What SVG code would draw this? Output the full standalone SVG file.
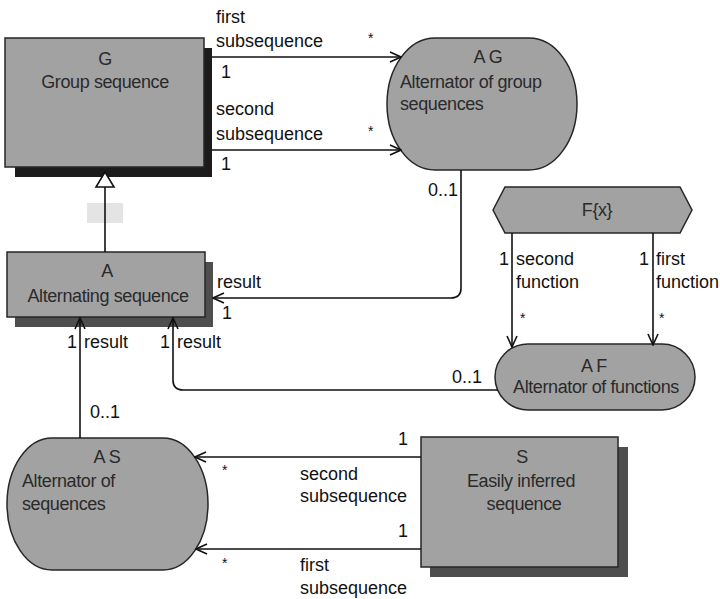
<svg xmlns="http://www.w3.org/2000/svg" width="720" height="599" viewBox="0 0 720 599">
  <style>
    .node { fill: #a2a2a2; stroke: #262626; stroke-width: 1.5; }
    .shadow-dark { fill: #1c1c1c; }
    .shadow { fill: #4e4e4e; }
    .ntext { font-family: "Liberation Sans", Arial, sans-serif; font-size: 18px; fill: #2a2a2a; letter-spacing: -0.4px; }
    .mid { text-anchor: middle; }
    .elabel { font-family: "Liberation Sans", Arial, sans-serif; font-size: 18px; fill: #111; }
    .star { font-family: "Liberation Sans", Arial, sans-serif; font-size: 14px; fill: #111; }
    .conn { fill: none; stroke: #111; stroke-width: 1.6; }
  </style>
  <defs>
    <marker id="open-arrow" viewBox="0 0 13 12" refX="12" refY="6" markerWidth="13" markerHeight="12" markerUnits="userSpaceOnUse" orient="auto">
      <path d="M1,1 L12,6 L1,11" fill="none" stroke="#111" stroke-width="1.6"/>
    </marker>
  </defs>

  <rect width="720" height="599" fill="#ffffff"/>

  <!-- faint smudge below the group sequence box -->
  <rect x="87" y="203" width="36" height="20" fill="#e4e4e4"/>

  <!-- G: group sequence -->
  <g id="node-G">
    <rect class="shadow-dark" x="15" y="48" width="197" height="129"/>
    <rect class="node" x="5" y="38" width="199" height="129"/>
    <text class="ntext mid" x="105" y="65">G</text>
    <text class="ntext mid" x="105" y="88">Group sequence</text>
  </g>

  <!-- AG: alternator of group sequences -->
  <g id="node-AG">
    <rect class="node" x="387" y="38" width="190" height="132" rx="48" ry="66"/>
    <text class="ntext mid" x="488" y="63">A G</text>
    <text class="ntext" x="400" y="88">Alternator of group</text>
    <text class="ntext" x="400" y="110">sequences</text>
  </g>

  <!-- A: alternating sequence -->
  <g id="node-A">
    <rect class="shadow" x="15" y="262" width="198" height="65"/>
    <rect class="node" x="7" y="252" width="198" height="65"/>
    <text class="ntext mid" x="107" y="277">A</text>
    <text class="ntext mid" x="108" y="302">Alternating sequence</text>
  </g>

  <!-- F{x} -->
  <g id="node-F">
    <polygon class="node" points="493,210 505,187 680,187 692,210 680,233 505,233"/>
    <text class="ntext mid" x="597" y="216">F{x}</text>
  </g>

  <!-- AF: alternator of functions -->
  <g id="node-AF">
    <rect class="node" x="495" y="344" width="200" height="66" rx="33" ry="33"/>
    <text class="ntext mid" x="594" y="372">A F</text>
    <text class="ntext mid" x="596" y="393">Alternator of functions</text>
  </g>

  <!-- AS: alternator of sequences -->
  <g id="node-AS">
    <rect class="node" x="7" y="438" width="201" height="132" rx="45" ry="66"/>
    <text class="ntext mid" x="107" y="463">A S</text>
    <text class="ntext" x="22" y="487">Alternator of</text>
    <text class="ntext" x="22" y="510">sequences</text>
  </g>

  <!-- S: easily inferred sequence -->
  <g id="node-S">
    <rect class="shadow" x="430" y="447" width="198" height="130"/>
    <rect class="node" x="421" y="437" width="197" height="130"/>
    <text class="ntext mid" x="522" y="463">S</text>
    <text class="ntext mid" x="521" y="487">Easily inferred</text>
    <text class="ntext mid" x="524" y="510">sequence</text>
  </g>

  <!-- connectors -->
  <g id="connectors">
    <!-- G to AG -->
    <path class="conn" d="M212,57 L401,57" marker-end="url(#open-arrow)"/>
    <path class="conn" d="M212,150 L401,150" marker-end="url(#open-arrow)"/>
    <!-- AG result to A -->
    <path class="conn" d="M461,170 L461,288 Q461,298 451,298 L213,298" marker-end="url(#open-arrow)"/>
    <!-- A specialises G -->
    <path class="conn" d="M105,252 L105,187"/>
    <polygon points="96,187 114,187 105,172" fill="#ffffff" stroke="#111" stroke-width="1.6"/>
    <!-- AS result to A -->
    <path class="conn" d="M80,438 L80,318" marker-end="url(#open-arrow)"/>
    <!-- AF result to A -->
    <path class="conn" d="M498,390 L183,390 Q173,390 173,380 L173,318" marker-end="url(#open-arrow)"/>
    <!-- F{x} to AF -->
    <path class="conn" d="M512,233 L512,347" marker-end="url(#open-arrow)"/>
    <path class="conn" d="M653,233 L653,345" marker-end="url(#open-arrow)"/>
    <!-- S to AS -->
    <path class="conn" d="M421,457 L195,457" marker-end="url(#open-arrow)"/>
    <path class="conn" d="M421,549 L196,549" marker-end="url(#open-arrow)"/>
  </g>

  <!-- connector labels -->
  <g id="labels">
    <text class="elabel" x="216" y="23">first</text>
    <text class="elabel" x="216" y="47">subsequence</text>
    <text class="star" x="368" y="43">*</text>
    <text class="elabel" x="221" y="78">1</text>

    <text class="elabel" x="216" y="115">second</text>
    <text class="elabel" x="216" y="140">subsequence</text>
    <text class="star" x="368" y="136">*</text>
    <text class="elabel" x="221" y="170">1</text>

    <text class="elabel" x="428" y="196">0..1</text>
    <text class="elabel" x="217" y="288">result</text>
    <text class="elabel" x="222" y="319">1</text>

    <text class="elabel" x="67" y="348">1</text>
    <text class="elabel" x="84" y="348">result</text>
    <text class="elabel" x="90" y="418">0..1</text>

    <text class="elabel" x="160" y="348">1</text>
    <text class="elabel" x="177" y="348">result</text>
    <text class="elabel" x="452" y="383">0..1</text>

    <text class="elabel" x="499" y="265">1</text>
    <text class="elabel" x="516" y="265">second</text>
    <text class="elabel" x="516" y="288">function</text>
    <text class="star" x="520" y="323">*</text>

    <text class="elabel" x="639" y="265">1</text>
    <text class="elabel" x="656" y="265">first</text>
    <text class="elabel" x="656" y="288">function</text>
    <text class="star" x="659" y="323">*</text>

    <text class="elabel" x="398" y="445">1</text>
    <text class="elabel" x="300" y="480">second</text>
    <text class="elabel" x="300" y="502">subsequence</text>
    <text class="star" x="222" y="475">*</text>

    <text class="elabel" x="398" y="537">1</text>
    <text class="elabel" x="300" y="571">first</text>
    <text class="elabel" x="300" y="594">subsequence</text>
    <text class="star" x="222" y="568">*</text>
  </g>
</svg>
